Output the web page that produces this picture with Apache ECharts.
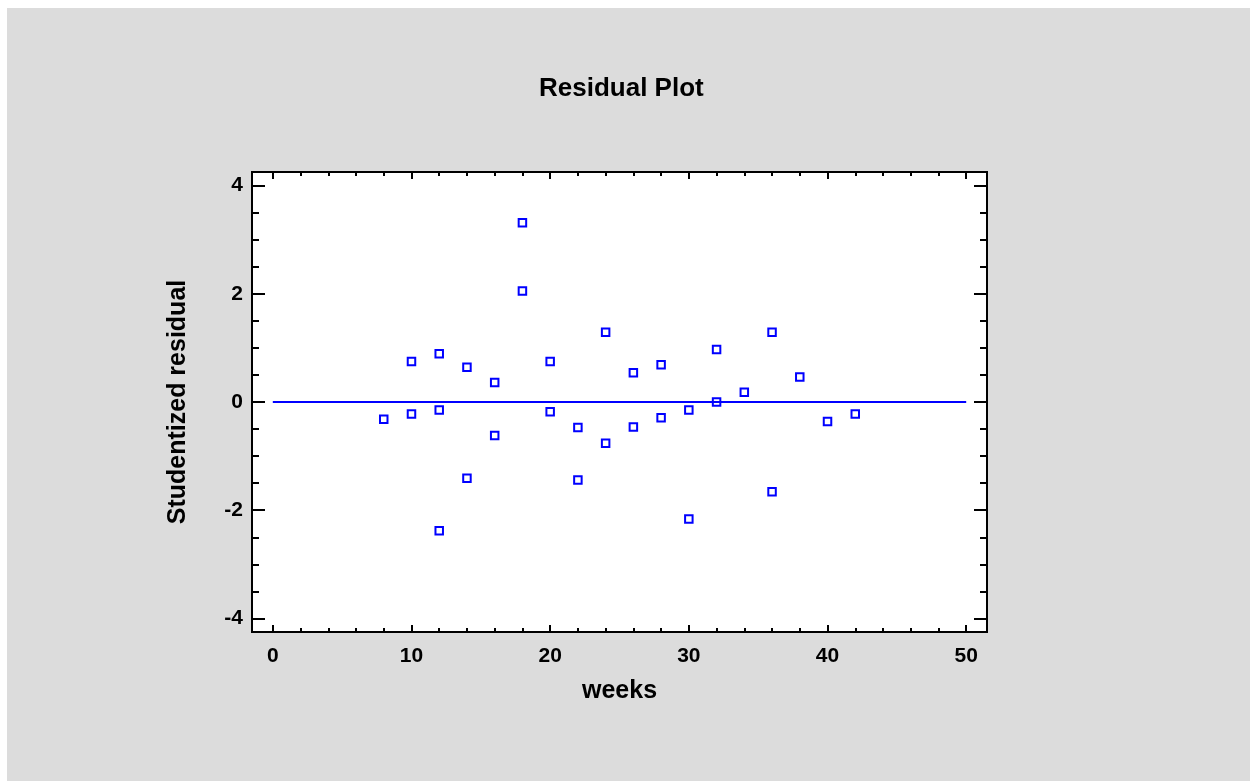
<!DOCTYPE html>
<html>
<head>
<meta charset="utf-8">
<script src="https://cdn.jsdelivr.net/npm/echarts@6/dist/echarts.min.js"></script>
<style>
html,body{margin:0;padding:0;background:#fff;}
#chart{width:1250px;height:781px;}
</style>
</head>
<body>
<div id="chart"></div>
<script>
// ---- data ----
const weeks = [8, 10, 10, 12, 12, 12, 14, 14, 16, 16, 18, 18, 20, 20, 22, 22,
               24, 24, 26, 26, 28, 28, 30, 30, 32, 32, 34, 36, 36, 38, 40, 42];
const residuals = [-0.32, 0.75, -0.22, 0.89, -0.15, -2.38, 0.64, -1.41, 0.36, -0.62, 3.31, 2.05, 0.75, -0.18, -0.47, -1.44,
                   1.29, -0.76, 0.54, -0.46, 0.69, -0.29, -0.15, -2.16, 0.97, 0.00, 0.18, 1.29, -1.66, 0.46, -0.36, -0.22];
const zeroLineX = [0, 50];
const zeroLineY = [0, 0];
const xMajorTicks = [0, 10, 20, 30, 40, 50];
const xMinorTicks = [2, 4, 6, 8, 12, 14, 16, 18, 22, 24, 26, 28, 32, 34, 36, 38, 42, 44, 46, 48];
const yMajorTicks = [-4, -2, 0, 2, 4];
const yMinorTicks = [-3.5, -3, -2.5, -1.5, -1, -0.5, 0.5, 1, 1.5, 2.5, 3, 3.5];

const titleText = 'Residual Plot';
const xName = 'weeks';
const yName = 'Studentized residual';

const FONT = '"Liberation Sans", Arial, sans-serif';
const tickStyle = len => ({show: true, inside: true, length: len, lineStyle: {color: '#000', width: 2}});

function xAxisDef(pos, ticks, len, labels) {
  return {
    type: 'value', position: pos, min: -1.5, max: 51.5,
    axisLine: {show: false, onZero: false}, splitLine: {show: false},
    axisTick: Object.assign(tickStyle(len), {customValues: ticks}),
    axisLabel: labels ? {show: true, customValues: ticks, margin: 14, color: '#000',
      fontFamily: FONT, fontWeight: 'bold', fontSize: 21} : {show: false},
    name: labels ? xName : '', nameLocation: 'middle', nameGap: 47,
    nameTextStyle: {color: '#000', fontFamily: FONT, fontWeight: 'bold', fontSize: 25}
  };
}
function yAxisDef(pos, ticks, len, labels) {
  return {
    type: 'value', position: pos, min: -4.25, max: 4.25,
    axisLine: {show: false, onZero: false}, splitLine: {show: false},
    axisTick: Object.assign(tickStyle(len), {customValues: ticks}),
    axisLabel: labels ? {show: true, customValues: ticks, margin: 9, color: '#000',
      fontFamily: FONT, fontWeight: 'bold', fontSize: 21} : {show: false},
    name: labels ? yName : '', nameLocation: 'middle', nameGap: 61, nameRotate: 90,
    nameTextStyle: {color: '#000', fontFamily: FONT, fontWeight: 'bold', fontSize: 25}
  };
}

const chart = echarts.init(document.getElementById('chart'), null, {renderer: 'canvas'});
chart.setOption({
  backgroundColor: '#fff',
  animation: false,
  graphic: [{type: 'rect', z: -100, silent: true, shape: {x: 7, y: 8, width: 1243, height: 773}, style: {fill: '#dcdcdc'}}],
  title: {
    text: titleText, left: 534, top: 71,
    textStyle: {color: '#000', fontFamily: FONT, fontWeight: 'bold', fontSize: 26}
  },
  grid: {left: 252, top: 172, width: 735, height: 460, show: true, backgroundColor: '#fff',
         borderColor: '#000', borderWidth: 2, containLabel: false},
  xAxis: [
    xAxisDef('bottom', xMajorTicks, 7, true),
    xAxisDef('bottom', xMinorTicks, 4, false),
    xAxisDef('top', xMajorTicks, 7, false),
    xAxisDef('top', xMinorTicks, 4, false)
  ],
  yAxis: [
    yAxisDef('left', yMajorTicks, 13, true),
    yAxisDef('left', yMinorTicks, 7, false),
    yAxisDef('right', yMajorTicks, 13, false),
    yAxisDef('right', yMinorTicks, 7, false)
  ],
  series: [
    {
      type: 'line', xAxisIndex: 0, yAxisIndex: 0, symbol: 'none', silent: true,
      data: zeroLineX.map((x, i) => [x, zeroLineY[i]]),
      lineStyle: {color: '#0000ff', width: 1.8}
    },
    {
      type: 'scatter', xAxisIndex: 0, yAxisIndex: 0, symbol: 'rect', symbolSize: 7.5,
      data: weeks.map((w, i) => [w, residuals[i]]),
      itemStyle: {color: 'rgba(0,0,0,0)', borderColor: '#0000ff', borderWidth: 2, opacity: 1}
    }
  ]
});
</script>
</body>
</html>
